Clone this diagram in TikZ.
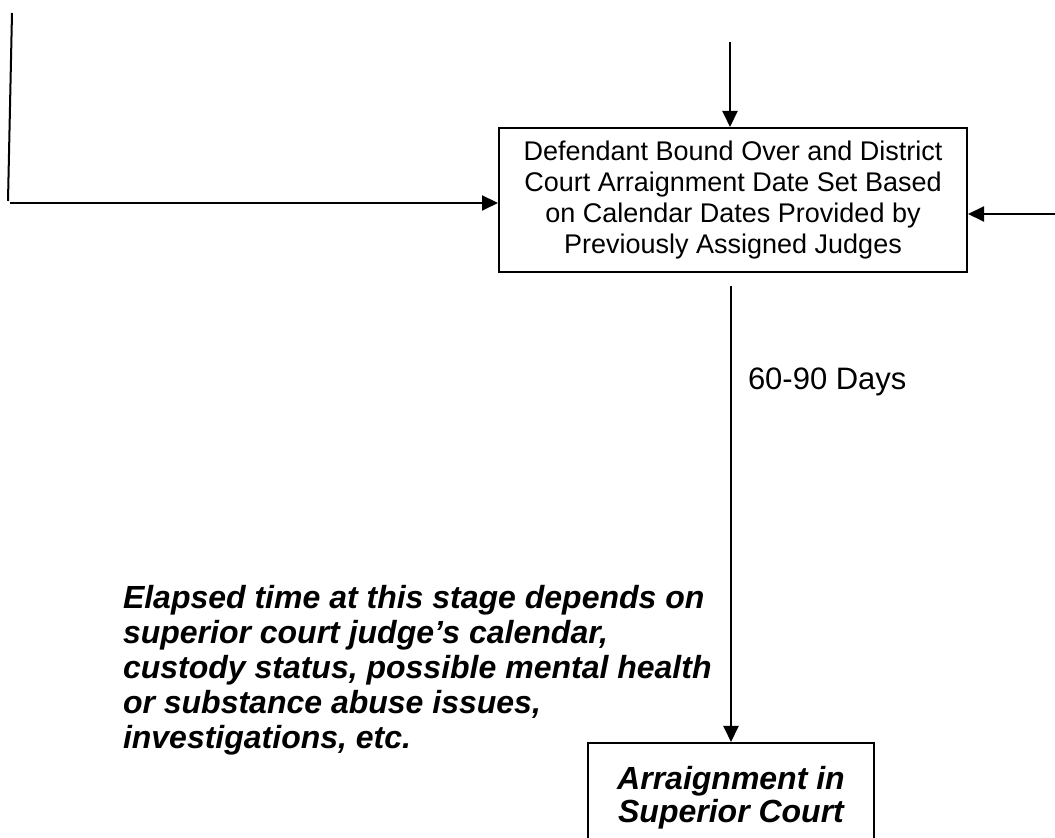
\documentclass[tikz,border=0pt]{standalone}
\usepackage{fontspec}
\setmainfont{Liberation Sans}
\usetikzlibrary{arrows.meta}
\begin{document}
\begin{tikzpicture}[x=0.5pt,y=-0.5pt,
  line width=1pt,
  arr/.style={-{Triangle[length=8pt,width=7.5pt]}},
  stagebox/.style={draw, line width=1pt, inner sep=0pt, align=center},
]
\clip (0,0) rectangle (1055,838);

% main stage box
\node[stagebox, minimum width=234pt, minimum height=72pt,
      font=\fontsize{13.5}{15.5}\selectfont] (bound) at (733,200)
  {Defendant Bound Over and District\\Court Arraignment Date Set Based\\on Calendar Dates Provided by\\Previously Assigned Judges};

% next stage, running off the lower edge
\node[stagebox, minimum width=143pt, minimum height=55pt,
      font=\fontsize{16}{16.5}\selectfont\bfseries\itshape] (sup) at (731,798)
  {Arraignment in\\Superior Court};

% incoming flow from above
\coordinate (topsrc) at (730,42);
\draw[arr] (topsrc) -- (topsrc |- bound.north);

% incoming flow from the left
\coordinate (ltop) at (12,13);
\coordinate (lbot) at (8,201);
\draw (ltop) -- (lbot);
\coordinate (lstart) at (10,203);
\draw[arr] (lstart) -- (lstart -| bound.west);

% incoming flow from the right
\coordinate (rsrc) at (1055,214);
\draw[arr] (rsrc) -- (rsrc -| bound.east);

% bound over -> superior court arraignment
\coordinate (dsrc) at (731,286);
\draw[arr] (dsrc) -- (dsrc |- sup.north);
\node[anchor=west, inner sep=0pt, font=\fontsize{15.5}{17}\selectfont] (days) at (747,382) {60-90 Days};

% note on elapsed time
\node[anchor=north west, inner sep=0pt, align=left,
      font=\fontsize{16}{17.5}\selectfont\bfseries\itshape] (note) at (122,584)
  {Elapsed time at this stage depends on\\superior court judge’s calendar,\\custody status, possible mental health\\or substance abuse issues,\\investigations, etc.};
\end{tikzpicture}
\end{document}
